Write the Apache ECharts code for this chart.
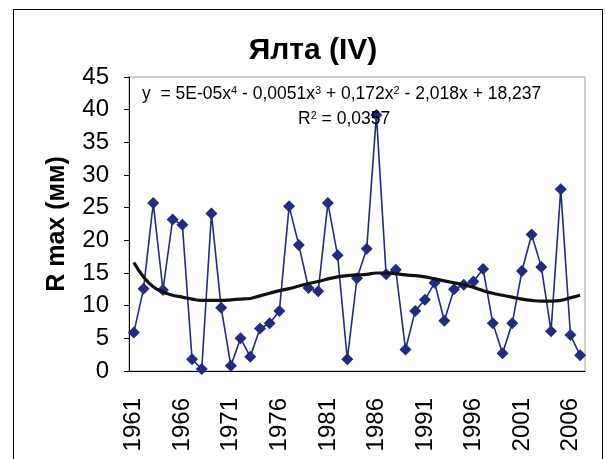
<!DOCTYPE html>
<html>
<head>
<meta charset="utf-8">
<script src="https://cdn.jsdelivr.net/npm/echarts@6/dist/echarts.min.js"></script>
<style>html,body{margin:0;padding:0;background:#fff;}#c{width:606px;height:459px;}</style>
</head>
<body>
<div id="c"></div>
<script>
var years = [];
for (var y = 1961; y <= 2007; y++) years.push(String(y));
var rmax = [5.9, 12.6, 25.7, 12.4, 23.2, 22.4, 1.8, 0.3, 24.1, 9.7,
            0.8, 5.0, 2.2, 6.5, 7.3, 9.2, 25.2, 19.3, 12.7, 12.2,
            25.7, 17.7, 1.8, 14.2, 18.7, 39.2, 14.8, 15.5, 3.3, 9.2,
            10.9, 13.5, 7.7, 12.5, 13.2, 13.7, 15.6, 7.3, 2.7, 7.3,
            15.3, 20.9, 15.9, 6.1, 27.8, 5.5, 2.4];
var trend = [16.6, 14.4, 12.9, 12.1, 11.6, 11.3, 11.0, 10.8, 10.8, 10.8,
             10.9, 11.0, 11.1, 11.5, 11.9, 12.3, 12.6, 13.0, 13.4, 13.7,
             14.1, 14.4, 14.6, 14.7, 14.8, 15.0, 15.0, 14.9, 14.7, 14.6,
             14.4, 14.1, 13.8, 13.5, 13.2, 12.8, 12.3, 11.9, 11.6, 11.3,
             11.0, 10.8, 10.7, 10.7, 10.8, 11.2, 11.6];
var titleText = 'Ялта (IV)';
var yName = 'R max (мм)';
var eqText = 'y  = 5E-05x{s|4} - 0,0051x{s|3} + 0,172x{s|2} - 2,018x + 18,237';
var r2Text = 'R{s|2} = 0,0357';

var font = 'Arial, "Liberation Sans", sans-serif';
var chart = echarts.init(document.getElementById('c'), null, {renderer: 'canvas'});
chart.setOption({
  animation: false,
  backgroundColor: '#fff',
  title: {
    text: titleText, left: 308, top: 31, textAlign: 'center',
    textStyle: {fontFamily: font, fontSize: 30, fontWeight: 'bold', color: '#000'}
  },
  grid: {left: 129, top: 77, right: 21, bottom: 88, show: true, borderColor: '#a0a0a0', borderWidth: 1, backgroundColor: 'transparent'},
  xAxis: {
    type: 'category', data: years, boundaryGap: true,
    axisLine: {lineStyle: {color: '#000', width: 1}},
    axisTick: {interval: 0, length: 5, lineStyle: {color: '#000'}},
    axisLabel: {interval: 4, rotate: 90, margin: 27, fontFamily: font, fontSize: 24, color: '#000'},
    splitLine: {show: false}
  },
  yAxis: {
    type: 'value', min: 0, max: 45, interval: 5,
    name: yName, nameLocation: 'middle', nameGap: 59,
    nameTextStyle: {fontFamily: font, fontSize: 25, fontWeight: 'bold', color: '#000'},
    axisLine: {show: true, lineStyle: {color: '#000', width: 1}},
    axisTick: {show: true, length: 5, lineStyle: {color: '#000'}},
    axisLabel: {margin: 20, fontFamily: font, fontSize: 24, color: '#000'},
    splitLine: {show: false}
  },
  series: [
    {
      type: 'line', data: rmax, symbol: 'diamond', symbolSize: 12, showAllSymbol: true,
      lineStyle: {color: '#232a80', width: 1.6},
      itemStyle: {color: '#232a80'}, z: 2
    },
    {
      type: 'line', data: trend, symbol: 'none', smooth: true,
      lineStyle: {color: '#111', width: 3.2}, z: 3
    }
  ],
  graphic: [
    {type: 'rect', shape: {x: 13.5, y: 9.5, width: 589, height: 470}, style: {fill: 'none', stroke: '#000', lineWidth: 1}, silent: true, z: -1},
    {type: 'text', left: 142, top: 85, style: {text: eqText, fontFamily: font, fontSize: 17.5, fill: '#000',
      rich: {s: {fontSize: 11, verticalAlign: 'top', fontFamily: font, fill: '#000', padding: [0,0,7,0]}}}, z: 10},
    {type: 'text', left: 298, top: 110, style: {text: r2Text, fontFamily: font, fontSize: 17.5, fill: '#000',
      rich: {s: {fontSize: 11, fontFamily: font, fill: '#000', padding: [0,0,7,0]}}}, z: 10}
  ]
});
</script>
</body>
</html>
